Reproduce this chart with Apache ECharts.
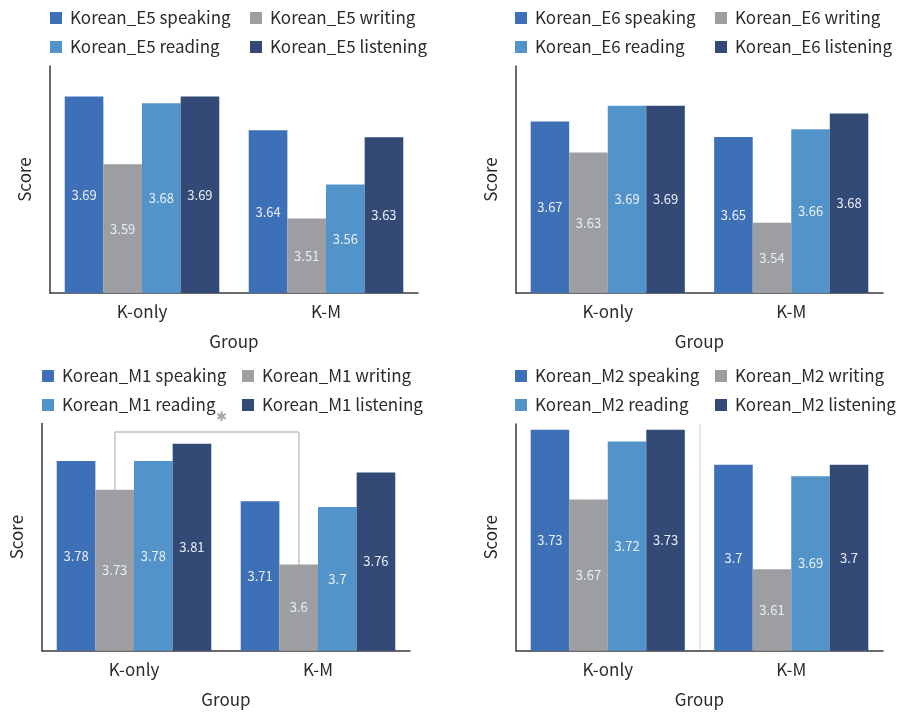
<!DOCTYPE html>
<html>
<head>
<meta charset="utf-8">
<script src="https://cdn.jsdelivr.net/npm/echarts@6/dist/echarts.min.js"></script>
<style>
html,body{margin:0;padding:0;background:#fff;}
#chart{width:898px;height:713px;}
</style>
</head>
<body>
<div id="chart"></div>
<script>
const categories = ['K-only', 'K-M'];
const skills = ['speaking', 'writing', 'reading', 'listening'];
const panelNames = ['E5', 'E6', 'M1', 'M2'];

const e5Speaking = [3.69, 3.64];
const e5Writing = [3.59, 3.51];
const e5Reading = [3.68, 3.56];
const e5Listening = [3.69, 3.63];

const e6Speaking = [3.67, 3.65];
const e6Writing = [3.63, 3.54];
const e6Reading = [3.69, 3.66];
const e6Listening = [3.69, 3.68];

const m1Speaking = [3.78, 3.71];
const m1Writing = [3.73, 3.60];
const m1Reading = [3.78, 3.70];
const m1Listening = [3.81, 3.76];

const m2Speaking = [3.73, 3.70];
const m2Writing = [3.67, 3.61];
const m2Reading = [3.72, 3.69];
const m2Listening = [3.73, 3.70];

const yMins = [3.40, 3.45, 3.45, 3.54];
const yMaxs = [3.735, 3.741, 3.845, 3.735];

// significance bracket (M1 writing, K-only vs K-M)
const bracketTop = 3.83;
const bracketMark = '✱';

const panelData = [
  [e5Speaking, e5Writing, e5Reading, e5Listening],
  [e6Speaking, e6Writing, e6Reading, e6Listening],
  [m1Speaking, m1Writing, m1Reading, m1Listening],
  [m2Speaking, m2Writing, m2Reading, m2Listening]
];

const colors = ['#3e70b8', '#9c9ea2', '#5294ca', '#334a77'];
const FONT = 'Noto Sans CJK KR';

const grids = [
  {left: 50, top: 66, width: 368, height: 227},
  {left: 516, top: 66, width: 367, height: 227},
  {left: 42, top: 423.5, width: 368, height: 227.2},
  {left: 516, top: 424, width: 367, height: 226.7}
];
const legendPos = [
  {l1: 50, l2: 250, top: 9.5},
  {l1: 515, l2: 715, top: 9.5},
  {l1: 42, l2: 242, top: 367.5},
  {l1: 515, l2: 715, top: 367.5}
];

const option = {
  backgroundColor: '#fff',
  animation: false,
  textStyle: {fontFamily: FONT},
  grid: grids.map(g => Object.assign({containLabel: false}, g)),
  legend: [],
  xAxis: [],
  yAxis: [],
  series: []
};

panelNames.forEach((p, pi) => {
  const names = skills.map(s => 'Korean_' + p + ' ' + s);
  const lp = legendPos[pi];
  const legendCommon = {
    orient: 'vertical',
    top: lp.top,
    padding: 0,
    itemGap: 12,
    itemWidth: 12,
    itemHeight: 12,
    icon: 'rect',
    selectedMode: false,
    textStyle: {fontFamily: FONT, fontSize: 17, lineHeight: 17, color: '#2b2b2b', padding: [0, 0, 0, 3]}
  };
  option.legend.push(Object.assign({left: lp.l1, data: [names[0], names[2]]}, legendCommon));
  option.legend.push(Object.assign({left: lp.l2, data: [names[1], names[3]]}, legendCommon));

  option.xAxis.push({
    type: 'category',
    gridIndex: pi,
    data: categories,
    name: 'Group',
    nameLocation: 'middle',
    nameGap: 40,
    nameTextStyle: {fontFamily: FONT, fontSize: 17, color: '#2b2b2b'},
    axisLine: {show: true, lineStyle: {color: '#3a3a3a', width: 1.5}},
    axisTick: {show: false},
    axisLabel: {fontFamily: FONT, fontSize: 17, color: '#2b2b2b', margin: 10},
    splitLine: pi === 3
      ? {show: true, showMinLine: false, showMaxLine: false, lineStyle: {color: '#e0e0e0', width: 1.5}}
      : {show: false}
  });
  option.yAxis.push({
    type: 'value',
    gridIndex: pi,
    min: yMins[pi],
    max: yMaxs[pi],
    name: 'Score',
    nameLocation: 'middle',
    nameGap: 17,
    nameRotate: 90,
    nameTextStyle: {fontFamily: FONT, fontSize: 17, color: '#2b2b2b'},
    axisLine: {show: true, lineStyle: {color: '#3a3a3a', width: 1.5}},
    axisTick: {show: false},
    axisLabel: {show: false},
    splitLine: {show: false}
  });

  skills.forEach((s, si) => {
    const ser = {
      type: 'bar',
      name: names[si],
      xAxisIndex: pi,
      yAxisIndex: pi,
      data: panelData[pi][si],
      barGap: '0%',
      barCategoryGap: '16%',
      itemStyle: {color: colors[si]},
      label: {
        show: true,
        position: 'inside',
        fontFamily: FONT,
        fontSize: 13,
        color: '#e9eef6'
      }
    };
    if (pi === 2 && si === 1) {
      ser.markLine = {
        silent: true,
        symbol: 'none',
        lineStyle: {type: 'solid', color: '#c2c2c2', width: 1.5},
        label: {show: false},
        data: [
          [{coord: [0, panelData[pi][si][0]]}, {coord: [0, bracketTop]}],
          [{coord: [0, bracketTop]}, {coord: [1, bracketTop],
            label: {show: true, position: 'middle', formatter: bracketMark, color: '#a8a8a8', fontSize: 13, distance: 10, offset: [15, 0]}}],
          [{coord: [1, bracketTop]}, {coord: [1, panelData[pi][si][1]]}]
        ]
      };
    }
    option.series.push(ser);
  });
});

const chart = echarts.init(document.getElementById('chart'), null, {renderer: 'canvas'});
chart.setOption(option);
</script>
</body>
</html>
